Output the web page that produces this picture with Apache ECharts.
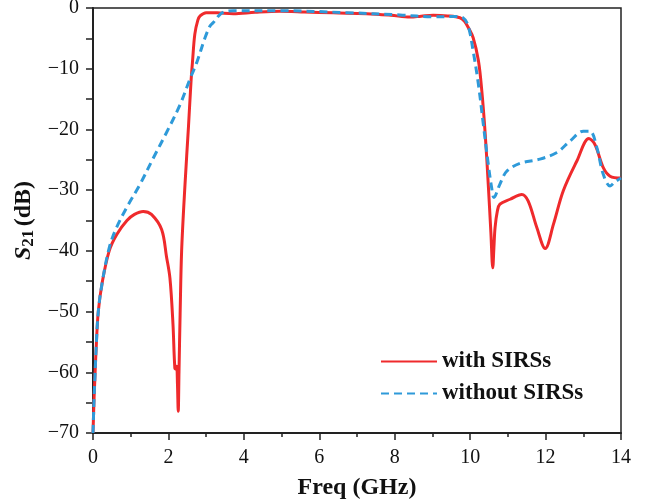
<!DOCTYPE html>
<html>
<head>
<meta charset="utf-8">
<script src="https://cdn.jsdelivr.net/npm/echarts@6/dist/echarts.min.js"></script>
<style>
  html, body { margin: 0; padding: 0; background: #fff; }
  #chart { width: 652px; height: 504px; }
</style>
</head>
<body>
<div id="chart"></div>
<script>
// frequency (GHz) / S21 (dB)
const freqWith = [0, 0.01, 0.03, 0.05, 0.08, 0.14, 0.25, 0.43, 0.63, 0.9, 1.1, 1.33, 1.55, 1.82, 1.95, 2.04, 2.12, 2.17, 2.2, 2.22, 2.24, 2.26, 2.28, 2.31, 2.35, 2.44, 2.53, 2.6, 2.64, 2.7, 2.78, 2.84, 3.0, 3.3, 3.72, 4.3, 4.96, 5.6, 6.37, 7.26, 7.9, 8.41, 8.7, 9.02, 9.4, 9.73, 9.85, 9.95, 10.08, 10.22, 10.31, 10.4, 10.48, 10.55, 10.6, 10.63, 10.66, 10.72, 10.79, 11.06, 11.37, 11.54, 11.77, 11.99, 12.21, 12.47, 12.83, 13.15, 13.31, 13.53, 13.71, 14]
const s21With = [-70, -68, -64, -61, -56.5, -50, -45, -40, -37.3, -35, -34, -33.5, -34, -36.5, -41, -44.5, -52, -59.3, -59.5, -59, -62, -66.4, -60, -50.4, -40, -29, -19.7, -12, -8.7, -4.3, -2, -1.3, -0.77, -0.8, -0.93, -0.7, -0.55, -0.65, -0.8, -0.93, -1.2, -1.5, -1.35, -1.2, -1.3, -1.6, -2.2, -3.2, -4.9, -8.7, -13.7, -20.8, -29, -37, -42.8, -39.5, -36.2, -33.5, -32.3, -31.5, -30.7, -31.8, -36.2, -39.6, -35.6, -30.1, -25.2, -21.5, -22.5, -26.3, -27.7, -28]

const freqWithout = [0, 0.01, 0.03, 0.05, 0.08, 0.14, 0.25, 0.43, 0.6, 0.89, 1.25, 1.6, 1.95, 2.31, 2.57, 2.75, 2.97, 3.1, 3.19, 3.37, 3.5, 3.72, 4.96, 6.73, 8.14, 9.02, 9.6, 9.81, 9.95, 10.08, 10.22, 10.35, 10.48, 10.57, 10.63, 10.79, 10.97, 11.32, 11.85, 12.3, 12.65, 13.0, 13.18, 13.36, 13.53, 13.71, 13.85, 14]
const s21Without = [-70, -68, -64, -61, -56.5, -50, -45, -39.5, -36.5, -32.9, -29, -24.7, -20.5, -15.9, -11.7, -9, -4.9, -3, -2.4, -1.04, -0.6, -0.45, -0.45, -0.77, -1.15, -1.45, -1.4, -1.6, -3.0, -7.1, -12.6, -19.2, -25.7, -29.6, -31.2, -29, -26.9, -25.6, -24.9, -23.8, -21.9, -20.3, -20.3, -23, -27.4, -29.3, -28.6, -28]

const seriesNames = ['with SIRSs', 'without SIRSs']

const zip = function (xs, ys) {
  return xs.map((x, i) => [x, ys[i]])
}

const fontFamily = '"Liberation Serif", "Times New Roman", serif'
const minus = function (v) {
  return String(v).replace('-', '\u2212')
}

const chart = echarts.init(document.getElementById('chart'), null, {renderer: 'canvas'})

chart.setOption({
  animation: false,
  backgroundColor: '#fff',
  grid: {
    left: 93,
    right: 31,
    top: 8,
    bottom: 71,
    outerBoundsMode: 'none',
    show: true,
    borderColor: '#222',
    borderWidth: 1.5,
  },
  legend: {
    orient: 'vertical',
    left: 380,
    top: 350,
    padding: 0,
    itemWidth: 56,
    itemHeight: 22,
    itemGap: 9,
    data: seriesNames,
    itemStyle: {opacity: 0},
    textStyle: {
      fontFamily: fontFamily,
      fontSize: 23,
      fontWeight: 'bold',
      color: '#111',
    },
  },
  xAxis: {
    type: 'value',
    min: 0,
    max: 14,
    interval: 2,
    name: 'Freq (GHz)',
    nameLocation: 'middle',
    nameGap: 43,
    nameTextStyle: {
      fontFamily: fontFamily,
      fontSize: 24,
      fontWeight: 'bold',
      color: '#111',
    },
    axisLine: {onZero: false, lineStyle: {color: '#222', width: 2}},
    axisTick: {length: 7, lineStyle: {color: '#222', width: 1.5}},
    minorTick: {show: true, splitNumber: 2, length: 4, lineStyle: {color: '#222', width: 1.5}},
    splitLine: {show: false},
    axisLabel: {
      fontFamily: fontFamily,
      fontSize: 20,
      color: '#111',
      margin: 15,
    },
  },
  yAxis: {
    type: 'value',
    min: -70,
    max: 0,
    interval: 10,
    name: '{s|S}{sub|21} {n|(dB)}',
    nameLocation: 'middle',
    nameGap: 51,
    nameRotate: 90,
    nameTextStyle: {
      color: '#111',
      rich: {
        s: {fontFamily: fontFamily, fontSize: 24, fontWeight: 'bold', fontStyle: 'italic', color: '#111'},
        sub: {fontFamily: fontFamily, fontSize: 17, fontWeight: 'bold', color: '#111', verticalAlign: 'bottom', padding: [9, 0, 0, 0]},
        n: {fontFamily: fontFamily, fontSize: 24, fontWeight: 'bold', color: '#111'},
      },
    },
    axisLine: {onZero: false, lineStyle: {color: '#222', width: 2}},
    axisTick: {length: 7, lineStyle: {color: '#222', width: 1.5}},
    minorTick: {show: true, splitNumber: 2, length: 7, lineStyle: {color: '#222', width: 1.5}},
    splitLine: {show: false},
    axisLabel: {
      fontFamily: fontFamily,
      fontSize: 20,
      color: '#111',
      margin: 14,
      formatter: minus,
    },
  },
  series: [
    {
      name: seriesNames[0],
      type: 'line',
      data: zip(freqWith, s21With),
      symbol: 'none',
      smooth: 0.35,
      lineStyle: {color: '#ef2a2c', width: 3},
      itemStyle: {color: '#ef2a2c'},
      z: 2,
    },
    {
      name: seriesNames[1],
      type: 'line',
      data: zip(freqWithout, s21Without),
      symbol: 'none',
      smooth: 0.35,
      lineStyle: {color: '#2e9ad9', width: 3, type: [8, 5]},
      itemStyle: {color: '#2e9ad9'},
      z: 3,
    },
  ],
})
</script>
</body>
</html>
